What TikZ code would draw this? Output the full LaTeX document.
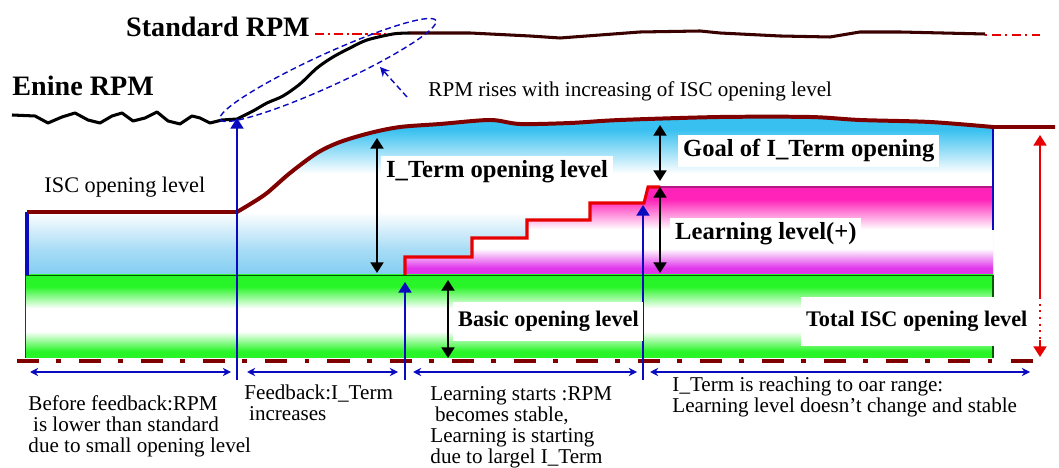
\documentclass[tikz,border=0pt]{standalone}
\usepackage{fontspec}
\setmainfont{Liberation Serif}
\usepackage{tikz}
\usetikzlibrary{arrows.meta,calc}

\definecolor{iscred}{RGB}{128,0,0}
\definecolor{lineblue}{RGB}{10,10,190}
\definecolor{skyblue}{RGB}{55,192,240}
\definecolor{paleblue}{RGB}{130,205,242}
\definecolor{bandgreen}{RGB}{40,245,40}
\definecolor{learnpink}{RGB}{255,35,185}
\definecolor{learnviolet}{RGB}{225,55,235}
\definecolor{stepred}{RGB}{230,0,0}

% the path box is mapped to 25bp..75bp
\pgfdeclareverticalshading{iscshade}{100bp}{color(0bp)=(paleblue); color(25bp)=(paleblue);
 color(33bp)=(paleblue!70!white); color(45bp)=(white); color(57bp)=(white);
 color(71bp)=(skyblue); color(100bp)=(skyblue)}
\pgfdeclareverticalshading{learnshade}{100bp}{color(0bp)=(learnviolet); color(29bp)=(learnviolet);
 color(40bp)=(white); color(51bp)=(white); color(68bp)=(learnpink); color(100bp)=(learnpink)}
\pgfdeclareverticalshading{basicshade}{100bp}{color(0bp)=(bandgreen); color(29bp)=(bandgreen);
 color(41bp)=(white); color(55bp)=(white); color(68bp)=(bandgreen); color(100bp)=(bandgreen)}

\begin{document}
\begin{tikzpicture}
[x=0.015cm,y=-0.015cm,
 txt/.style={font=\fontsize{9}{9}\selectfont,inner sep=0pt,align=left},
 lbl/.style={font=\fontsize{10.5}{12}\selectfont\bfseries,fill=white,inner sep=2pt},
 lblsmall/.style={font=\fontsize{9.5}{11}\selectfont\bfseries,fill=white,inner sep=2pt},
 title/.style={font=\fontsize{12}{14}\selectfont\bfseries,inner sep=0pt},
 dim/.style={line width=0.85pt,{Triangle[width=5.5pt,length=4.5pt]}-{Triangle[width=5.5pt,length=4.5pt]}},
 span/.style={lineblue,line width=0.7pt,{Stealth[width=3.5pt,length=3.5pt]}-{Stealth[width=3.5pt,length=3.5pt]}},
 marker/.style={lineblue,line width=0.85pt,-{Triangle[width=5.5pt,length=4.5pt]}}]

\useasboundingbox (0,0) rectangle (1059,468);

% opening levels
\path[shading=iscshade]
 (27,275) -- (27,212) -- (237,212) -- plot[smooth] coordinates
 {(237,212) (252,203) (267,193) (290,173) (317,153) (340,142) (370,133) (400,127) (440,124)
  (490,120) (520,124) (570,123) (620,120) (720,117) (810,117) (860,120) (930,122) (993,127)}
 -- (993,275) -- cycle;
\path[shading=learnshade]
 (405,275) -- (405,257) -- (472,257) -- (472,238) -- (527,238) -- (527,220) -- (590,220)
 -- (590,203) -- (644,203) -- (648,187) -- (993,187) -- (993,275) -- cycle;
\path[shading=basicshade] (25,275) rectangle (993,358);
\draw[green!35!black,line width=0.4pt] (25,358) -- (25,275) -- (993,275);
\draw[green!35!black,line width=0.6pt] (993,275) -- (993,358);
\draw[learnpink!70!black,line width=0.5pt] (660,187) -- (993,187);
\draw[lineblue,line width=1.6pt] (27,212) -- (27,275);
\draw[lineblue,line width=0.85pt] (993,127) -- (993,230);

\draw[iscred,line width=1.7pt] (27,212) -- (237,212) -- plot[smooth] coordinates
 {(237,212) (252,203) (267,193) (290,173) (317,153) (340,142) (370,133) (400,127) (440,124)
  (490,120) (520,124) (570,123) (620,120) (720,117) (810,117) (860,120) (930,122) (993,127)}
 -- (1055,127);
\draw[stepred,line width=1.3pt] (405,275) -- (405,257) -- (472,257) -- (472,238) -- (527,238)
 -- (527,220) -- (590,220) -- (590,203) -- (644,203) -- (648,187) -- (660,187);

% rpm
\draw[stepred,line width=0.6pt,dash pattern=on 4pt off 1.5pt on 1pt off 1.5pt] (315,34) -- (400,34);
\draw[stepred,line width=0.6pt,dash pattern=on 1pt off 2pt on 4pt off 1.5pt] (985,35) -- (1040,35);
\draw[line width=1.3pt,line join=round] plot coordinates
 {(12,115) (35,116) (48,123) (62,117) (75,113) (88,120) (100,123) (112,116) (122,113) (133,121)
  (145,118) (157,112) (168,121) (180,124) (192,116) (200,118) (210,123) (222,120) (237,119)}
 -- plot[smooth] coordinates
 {(237,119) (253,111) (267,103) (283,96) (300,84) (317,68) (333,57) (350,48) (367,40) (393,34) (410,33)};
\draw[iscred!45!black,line width=1.3pt,line join=round] plot coordinates
 {(410,33) (470,33) (530,36) (560,38) (600,35) (640,32) (700,31) (720,33) (780,36) (830,37)
  (860,32) (900,32) (985,34)};
\draw[lineblue,line width=0.6pt,dash pattern=on 2.5pt off 1.5pt,rotate around={24.6:(328,70)}]
 (328,70) ellipse [x radius=1.78cm,y radius=0.24cm];

% base line
\draw[iscred,line width=1.7pt,dash pattern=on 9.4pt off 7.3pt on 2.1pt off 7.7pt] (17,361) -- (1048,361);

% markers
\coordinate (fb0) at (237,380); \coordinate (fb1) at (237,118);
\coordinate (ls0) at (405,380); \coordinate (ls1) at (405,282);
\coordinate (lf0) at (643,380); \coordinate (lf1) at (643,205);
\draw[marker] (fb0) -- (fb1);
\draw[marker] (ls0) -- (ls1);
\draw[marker] (lf0) -- (lf1);

\coordinate (ar0) at (407,97); \coordinate (ar1) at (380,67);
\draw[lineblue,line width=0.6pt,dash pattern=on 2.5pt off 1.5pt,-{Stealth[width=4pt,length=4pt]}] (ar0) -- (ar1);

% levels
\coordinate (it0) at (377,138); \coordinate (it1) at (377,273);
\coordinate (gl0) at (660,125); \coordinate (gl1) at (660,181);
\coordinate (ll0) at (660,187); \coordinate (ll1) at (660,273);
\coordinate (bs0) at (448,280); \coordinate (bs1) at (448,358);
\draw[dim] (it0) -- (it1);
\draw[dim] (gl0) -- (gl1);
\draw[dim] (ll0) -- (ll1);
\draw[dim] (bs0) -- (bs1);

\coordinate (tt0) at (1040,135); \coordinate (tt1) at (1040,297);
\coordinate (tt2) at (1040,340); \coordinate (tt3) at (1040,357);
\draw[stepred,line width=0.85pt,-{Triangle[width=5.5pt,length=4.5pt]}] (tt1) -- (tt0);
\draw[stepred,line width=0.85pt,dotted] (tt1) -- (tt2);
\draw[stepred,line width=0.85pt,-{Triangle[width=5.5pt,length=4.5pt]}] (tt2) -- (tt3);

% phases
\coordinate (p1a) at (30,372); \coordinate (p1b) at (231,372);
\coordinate (p2a) at (247,372); \coordinate (p2b) at (398,372);
\coordinate (p3a) at (413,372); \coordinate (p3b) at (637,372);
\coordinate (p4a) at (650,372); \coordinate (p4b) at (1030,372);
\draw[span] (p1a) -- (p1b);
\draw[span] (p2a) -- (p2b);
\draw[span] (p3a) -- (p3b);
\draw[span] (p4a) -- (p4b);

% labels
\node[title,anchor=base] (stdrpm) at (218,37) {Standard RPM};
\node[title,anchor=base west] (engrpm) at (12,96) {Enine RPM};
\node[txt,anchor=base west] (rise) at (428,97) {RPM rises with increasing of ISC opening level};
\node[txt,font=\fontsize{9.5}{11}\selectfont,anchor=base west] (isc) at (44,193) {ISC opening level};
\node[lbl,anchor=base west] (iterm) at (381,178) {I\_Term opening level};
\node[lbl,anchor=base west] (goal) at (678,157) {Goal of I\_Term opening};
\node[lbl,anchor=base west] (learn) at (670,240) {Learning level(+)};
\node[lblsmall,inner ysep=4pt,anchor=base west] (basic) at (453,327) {Basic opening level};
\node[lblsmall,inner ysep=6pt,anchor=base west] (total) at (801,327) {Total ISC opening level};

\node[txt,anchor=north west] (before) at (28,395)
 {Before feedback:RPM\\\hspace*{2pt}is lower than standard\\due to small opening level};
\node[txt,anchor=north west] (feed) at (244,384)
 {Feedback:I\_Term\\\hspace*{2pt}increases};
\node[txt,anchor=north west] (start) at (430,386)
 {Learning starts :RPM\\\hspace*{2pt}becomes stable,\\Learning is starting\\due to largel I\_Term};
\node[txt,anchor=north west] (reach) at (672,376)
 {I\_Term is reaching to oar range:\\Learning level doesn't change and stable};

\end{tikzpicture}
\end{document}
